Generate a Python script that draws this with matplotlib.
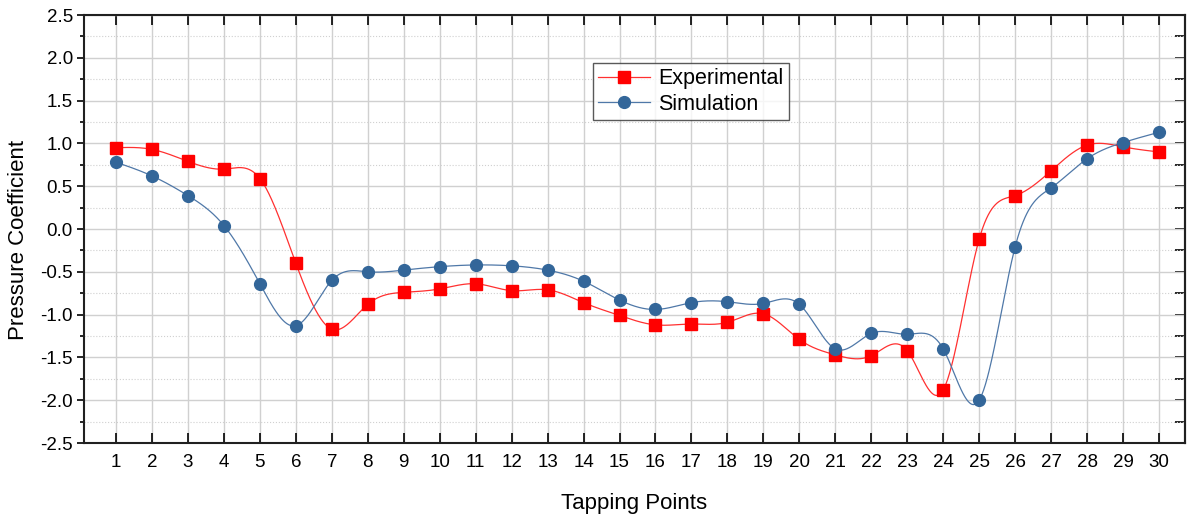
import numpy as np
import matplotlib
matplotlib.use("Agg")
import matplotlib.pyplot as plt
from matplotlib.ticker import MultipleLocator

plt.rcParams['font.family'] = ['Liberation Sans', 'DejaVu Sans']

points = np.arange(1, 31)
experimental = [0.95, 0.93, 0.79, 0.70, 0.59, -0.40, -1.17, -0.88, -0.74, -0.70,
                -0.64, -0.72, -0.71, -0.86, -1.01, -1.12, -1.11, -1.09, -0.99, -1.29,
                -1.47, -1.48, -1.42, -1.88, -0.12, 0.39, 0.68, 0.98, 0.96, 0.90]
simulation = [0.78, 0.62, 0.39, 0.04, -0.64, -1.13, -0.60, -0.50, -0.48, -0.44,
              -0.42, -0.43, -0.48, -0.61, -0.83, -0.94, -0.86, -0.85, -0.87, -0.88,
              -1.40, -1.22, -1.23, -1.40, -2.00, -0.21, 0.48, 0.82, 1.01, 1.13]


def natural_spline(x, y, n=40):
    # natural cubic spline through the points, sampled n times per segment
    x = np.asarray(x, float)
    y = np.asarray(y, float)
    m = len(x)
    h = np.diff(x)
    A = np.zeros((m, m))
    r = np.zeros(m)
    A[0, 0] = A[-1, -1] = 1.0
    for i in range(1, m - 1):
        A[i, i - 1] = h[i - 1]
        A[i, i] = 2 * (h[i - 1] + h[i])
        A[i, i + 1] = h[i]
        r[i] = 6 * ((y[i + 1] - y[i]) / h[i] - (y[i] - y[i - 1]) / h[i - 1])
    M = np.linalg.solve(A, r)
    xs, ys = [], []
    for i in range(m - 1):
        t = np.linspace(x[i], x[i + 1], n, endpoint=False)
        a = x[i + 1] - t
        b = t - x[i]
        s = (M[i] * a**3 + M[i + 1] * b**3) / (6 * h[i]) \
            + (y[i] / h[i] - M[i] * h[i] / 6) * a \
            + (y[i + 1] / h[i] - M[i + 1] * h[i] / 6) * b
        xs.append(t)
        ys.append(s)
    xs.append([x[-1]])
    ys.append([y[-1]])
    return np.concatenate(xs), np.concatenate(ys)


red = '#ff0000'
blue = '#336699'

fig = plt.figure(figsize=(11.92, 5.21), dpi=100)
ax = fig.add_axes([0.0705, 0.1497, 0.9235, 0.8215])

sx, sy = natural_spline(points, experimental)
ax.plot(sx, sy, color='#ff3030', lw=0.9, zorder=3)
ax.plot(points, experimental, 's', color=red, ms=8, zorder=4)
sx, sy = natural_spline(points, simulation)
ax.plot(sx, sy, color='#4f78a8', lw=0.9, zorder=3)
ax.plot(points, simulation, 'o', color=blue, ms=8.5, zorder=4)

# legend proxies: line through marker
ax.plot([], [], color='#ff3030', lw=0.9, marker='s', mfc=red, mec=red, ms=8,
        label='Experimental')
ax.plot([], [], color='#4f78a8', lw=0.9, marker='o', mfc=blue, mec=blue, ms=8.5,
        label='Simulation')

ax.set_xlim(0.11, 30.72)
ax.set_ylim(-2.5, 2.5)
ax.set_xticks(points)
ax.yaxis.set_major_locator(MultipleLocator(0.5))
ax.yaxis.set_minor_locator(MultipleLocator(0.25))
ax.set_yticklabels([f'{v:.1f}' for v in ax.get_yticks()])

ax.grid(True, which='major', axis='both', color='#d0d0d0', lw=1.0, zorder=0)
ax.grid(True, which='minor', axis='y', color='#d0d0d0', lw=0.8, ls=':', zorder=0)

ax.tick_params(axis='x', which='major', direction='in', top=True, length=7,
               width=1.2, labelsize=13.5, pad=8)
ax.tick_params(axis='y', which='major', direction='out', length=5, width=1.2,
               labelsize=13.5, pad=3)
ax.tick_params(axis='y', which='minor', direction='out', length=3, width=1.2)
for s in ax.spines.values():
    s.set_linewidth(1.5)
    s.set_color('#202020')

# right side ticks point inward
ry = ax.secondary_yaxis('right')
ry.yaxis.set_major_locator(MultipleLocator(0.5))
ry.yaxis.set_minor_locator(MultipleLocator(0.25))
ry.tick_params(which='major', direction='in', length=7, width=1.2, labelright=False)
ry.tick_params(which='minor', direction='in', length=7, width=1.2)
ry.spines['right'].set_linewidth(1.5)
ry.spines['right'].set_color('#202020')

ax.set_xlabel('Tapping Points', fontsize=16, labelpad=16)
ax.set_ylabel('Pressure Coefficient', fontsize=16)
ax.yaxis.set_label_coords(-0.05, 0.474)

leg = ax.legend(loc='upper left', bbox_to_anchor=(0.462, 0.888),
                borderaxespad=0, fancybox=False, frameon=True, fontsize=15.5,
                handlelength=2.4, borderpad=0.25, labelspacing=0.2,
                handletextpad=0.4)
leg.get_frame().set_edgecolor('#303030')
leg.get_frame().set_linewidth(1.0)

fig.savefig('out.png', dpi=100)
